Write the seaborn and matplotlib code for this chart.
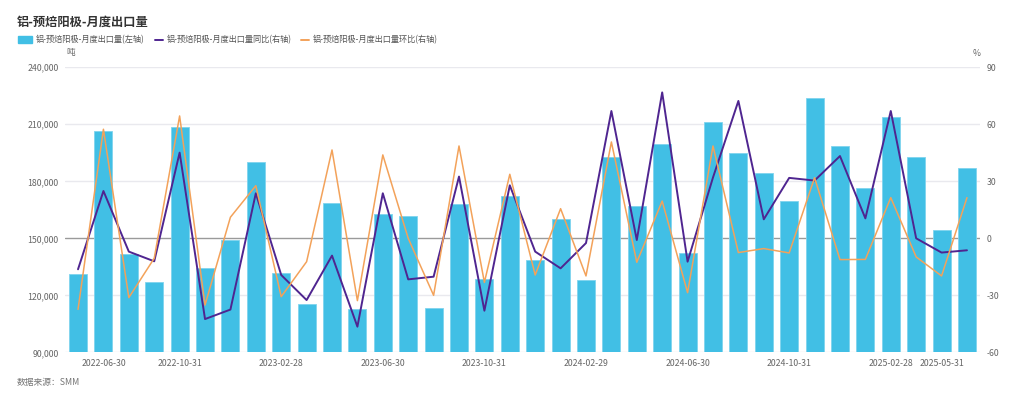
import numpy as np
import pandas as pd
import matplotlib
matplotlib.use("Agg")
import matplotlib.pyplot as plt
import seaborn as sns
from matplotlib.patches import Rectangle
from matplotlib.lines import Line2D

dates = ["2022-05-31", "2022-06-30", "2022-07-31", "2022-08-31", "2022-10-31", "2022-11-30",
         "2022-12-31", "2023-01-31", "2023-02-28", "2023-03-31", "2023-04-30", "2023-05-31",
         "2023-06-30", "2023-07-31", "2023-08-31", "2023-09-30", "2023-10-31", "2023-11-30",
         "2023-12-31", "2024-01-31", "2024-02-29", "2024-03-31", "2024-04-30", "2024-05-31",
         "2024-06-30", "2024-07-31", "2024-08-31", "2024-09-30", "2024-10-31", "2024-11-30",
         "2024-12-31", "2025-01-31", "2025-02-28", "2025-04-30", "2025-05-31", "2025-06-30"]

volume = [131400, 206700, 141800, 127000, 208400, 134600, 148900, 190200, 131600, 115400,
          168800, 113000, 162600, 161900, 113300, 168200, 128800, 172300, 138600, 160200,
          128100, 192600, 167000, 199500, 142500, 211400, 195100, 184200, 169500, 223700,
          198400, 176500, 213700, 192600, 154200, 186800]

yoy = [-16.3, 24.9, -7.0, -12.1, 45.1, -42.5, -37.5, 23.7, -19.3, -32.5,
       -9.1, -46.5, 23.7, -21.6, -20.2, 32.5, -38.1, 27.9, -7.0, -15.8,
       -2.5, 67.0, -0.9, 76.8, -12.3, 32.0, 72.3, 10.0, 31.8, 30.4,
       43.3, 10.5, 67.0, 0.0, -7.5, -6.3]

mom = [-37.4, 57.4, -31.2, -10.5, 64.4, -35.1, 11.1, 27.7, -30.7, -12.3,
       46.5, -32.8, 43.9, 0.0, -30.0, 48.6, -23.2, 33.7, -19.3, 15.6,
       -19.8, 50.7, -12.6, 19.6, -28.6, 48.6, -7.5, -5.4, -7.7, 31.9,
       -11.2, -11.1, 21.4, -9.8, -19.8, 21.4]

tick_dates = ["2022-06-30", "2022-10-31", "2023-02-28", "2023-06-30", "2023-10-31",
              "2024-02-29", "2024-06-30", "2024-10-31", "2025-02-28", "2025-05-31"]

left_ticks = [90000, 120000, 150000, 180000, 210000, 240000]
right_ticks = [-60, -30, 0, 30, 60, 90]

title = "铝-预焙阳极-月度出口量"
s_bar = "铝-预焙阳极-月度出口量(左轴)"
s_yoy = "铝-预焙阳极-月度出口量同比(右轴)"
s_mom = "铝-预焙阳极-月度出口量环比(右轴)"

sns.set_theme(style="white")
plt.rcParams["font.family"] = ["Noto Sans CJK SC", "DejaVu Sans"]

df = pd.DataFrame({"date": dates, "idx": np.arange(len(dates)),
                   "volume": volume, "yoy": yoy, "mom": mom})

BAR = "#41BFE5"
PURPLE = "#4F2590"
ORANGE = "#F3A25A"
TICK_FS = 6.3
LEG_FS = 5.9

fig = plt.figure(figsize=(10.24, 3.99), dpi=100)
ax = fig.add_axes([0.0638, 0.117, 0.8929, 0.7143])
ax2 = ax.twinx()

sns.barplot(data=df, x="idx", y="volume", color=BAR, width=0.71, ax=ax,
            saturation=1, edgecolor="#7FD4EE", linewidth=0.6, zorder=2)
ax.set_ylim(90000, 240000)
ax.set_xlim(-0.5, len(dates) - 0.5)
ax.set_yticks(left_ticks)
ax.set_yticklabels([f"{v:,}" for v in left_ticks], fontsize=TICK_FS, color="#666666")
for v in left_ticks:
    if v == 150000:
        ax.axhline(v, color="#9a9a9a", lw=1.0, zorder=1)
    else:
        ax.axhline(v, color="#e9e9ee", lw=1.0, zorder=1)

pos = [dates.index(d) for d in tick_dates]
ax.set_xticks(pos)
ax.set_xticklabels(tick_dates, fontsize=TICK_FS, color="#666666")
ax.set_xlabel("")
ax.set_ylabel("")
ax.tick_params(axis="y", length=0, pad=5)
ax.tick_params(axis="x", length=0, pad=5)

sns.lineplot(data=df, x="idx", y="yoy", color=PURPLE, lw=1.4, ax=ax2)
sns.lineplot(data=df, x="idx", y="mom", color=ORANGE, lw=1.1, ax=ax2)
ax2.set_ylim(-60, 90)
ax2.set_yticks(right_ticks)
ax2.set_yticklabels([str(v) for v in right_ticks], fontsize=TICK_FS, color="#666666")
ax2.set_ylabel("")
ax2.tick_params(axis="y", length=0, pad=5)
ax2.set_xlim(-0.5, len(dates) - 0.5)

for a in (ax, ax2):
    for sp in a.spines.values():
        sp.set_visible(False)

fig.text(17 / 1024, 1 - 22 / 399, title, fontsize=8.8, fontweight="bold",
         color="#333333", va="center", ha="left")

ly = 1 - 39.5 / 399
fig.patches.append(Rectangle((18 / 1024, ly - 3.5 / 399), 14 / 1024, 7 / 399,
                             transform=fig.transFigure, color=BAR))
fig.text(36 / 1024, ly, s_bar, fontsize=LEG_FS, color="#555555", va="center", ha="left")
fig.lines.append(Line2D([155 / 1024, 163 / 1024], [ly, ly], transform=fig.transFigure,
                        color=PURPLE, lw=1.4))
fig.text(167 / 1024, ly, s_yoy, fontsize=LEG_FS, color="#555555", va="center", ha="left")
fig.lines.append(Line2D([301 / 1024, 309 / 1024], [ly, ly], transform=fig.transFigure,
                        color=ORANGE, lw=1.4))
fig.text(313 / 1024, ly, s_mom, fontsize=LEG_FS, color="#555555", va="center", ha="left")

fig.text(66 / 1024, 1 - 53 / 399, "吨", fontsize=6.2, color="#666666", va="center", ha="left")
fig.text(973 / 1024, 1 - 53 / 399, "%", fontsize=6.2, color="#666666", va="center", ha="left")
fig.text(17 / 1024, 1 - 383 / 399, "数据来源：SMM", fontsize=TICK_FS, color="#777777",
         va="center", ha="left")

fig.savefig("out.png", dpi=100)
